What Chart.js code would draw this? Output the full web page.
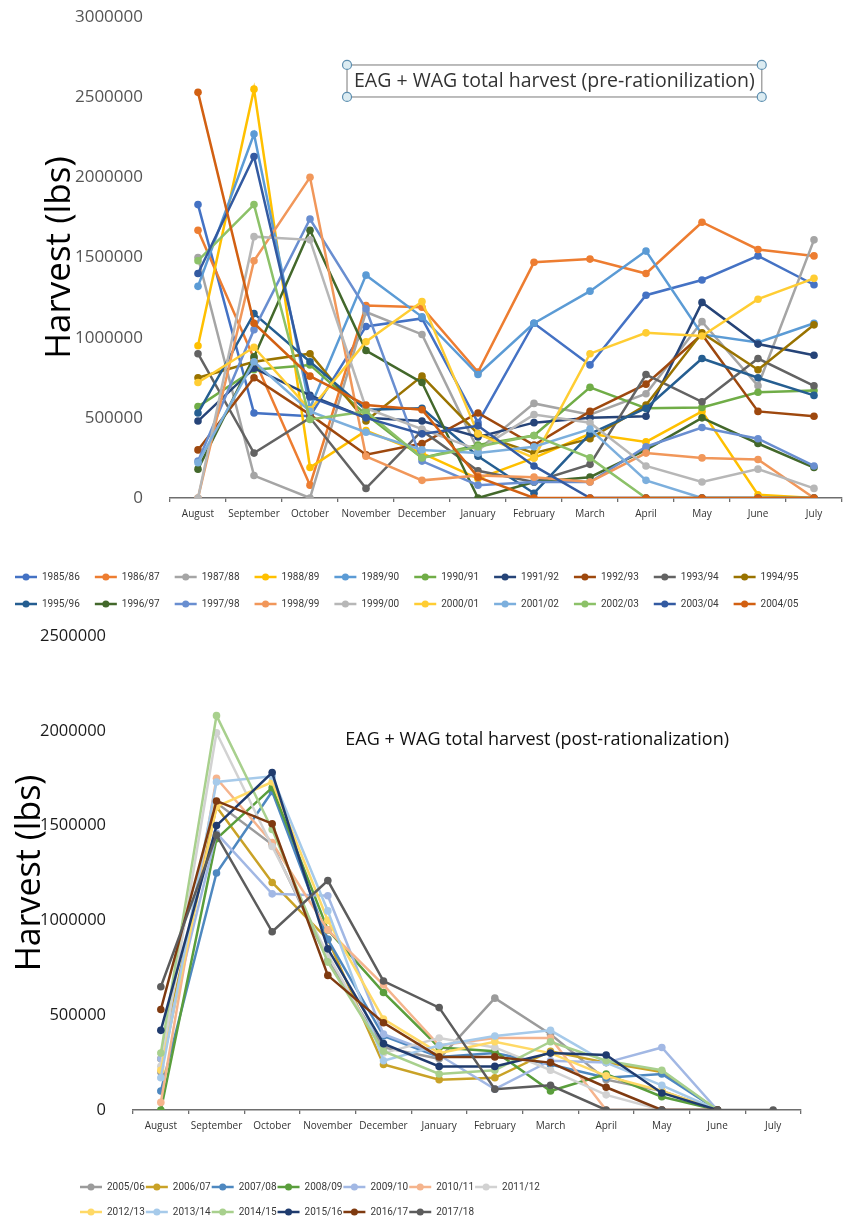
<!DOCTYPE html>
<html>
<head>
<meta charset="utf-8">
<title>EAG + WAG total harvest</title>
<script src="https://cdn.jsdelivr.net/npm/chart.js@4.4.1/dist/chart.umd.min.js"></script>
<style>
    html, body { margin: 0; padding: 0; background: #fff; overflow: hidden; width: 846px; height: 1226px; }
    #preChart { position: absolute; left: 0; top: 0; }
    #postChart { position: absolute; left: 0; top: 620px; }
</style>
</head>
<body>
<canvas id="preChart" width="846" height="620"></canvas>
<canvas id="postChart" width="846" height="614"></canvas>
<script>
const months = ['August', 'September', 'October', 'November', 'December', 'January',
                'February', 'March', 'April', 'May', 'June', 'July'];

// pre-rationalization seasons (lbs, Aug..Jul)
const preSeasons = ['1985/86', '1986/87', '1987/88', '1988/89', '1989/90', '1990/91', '1991/92',
                    '1992/93', '1993/94', '1994/95', '1995/96', '1996/97', '1997/98', '1998/99',
                    '1999/00', '2000/01', '2001/02', '2002/03', '2003/04', '2004/05'];
const preColors = ['#4472C4', '#ED7D31', '#A5A5A5', '#FFC000', '#5B9BD5', '#70AD47', '#264478',
                   '#9E480E', '#636363', '#997300', '#255E91', '#43682B', '#698ED0', '#F1975A',
                   '#B7B7B7', '#FFCD33', '#7CAFDD', '#8CC168', '#335AA1', '#D26012'];
const pre8586 = [1830000, 530000, 510000, 1070000, 1120000, 470000, 1090000, 830000, 1265000, 1360000, 1510000, 1330000];
const pre8687 = [1670000, 870000, 80000, 1200000, 1190000, 785000, 1470000, 1490000, 1400000, 1720000, 1550000, 1510000];
const pre8788 = [1500000, 140000, 0, 1160000, 1020000, 300000, 590000, 520000, 650000, 1100000, 700000, 1610000];
const pre8889 = [950000, 2550000, 190000, 420000, 280000, 120000, 250000, 400000, 350000, 540000, 20000, 0];
const pre8990 = [1320000, 2270000, 560000, 1390000, 1130000, 770000, 1090000, 1290000, 1540000, 1020000, 970000, 1090000];
const pre9091 = [570000, 800000, 830000, 520000, 250000, 330000, 390000, 690000, 560000, 565000, 660000, 670000];
const pre9192 = [480000, 810000, 640000, 500000, 480000, 380000, 470000, 500000, 510000, 1220000, 960000, 890000];
const pre9293 = [300000, 750000, 520000, 270000, 340000, 530000, 330000, 540000, 710000, 1020000, 540000, 510000];
const pre9394 = [900000, 280000, 500000, 60000, 420000, 170000, 100000, 210000, 770000, 600000, 870000, 700000];
const pre9495 = [750000, 850000, 900000, 480000, 760000, 400000, 280000, 370000, 580000, 1030000, 800000, 1080000];
const pre9596 = [530000, 1150000, 850000, 550000, 560000, 260000, 30000, 400000, 560000, 870000, 750000, 640000];
const pre9697 = [180000, 880000, 1670000, 920000, 720000, 0, 100000, 130000, 300000, 500000, 340000, 190000];
const pre9798 = [230000, 1050000, 1740000, 1180000, 230000, 80000, 100000, 100000, 320000, 440000, 370000, 200000];
const pre9899 = [0, 1480000, 2000000, 260000, 110000, 140000, 130000, 100000, 280000, 250000, 240000, 0];
const pre9900 = [0, 1630000, 1610000, 560000, 430000, 300000, 520000, 470000, 200000, 100000, 180000, 60000];
const pre0001 = [720000, 940000, 550000, 975000, 1225000, 400000, 250000, 900000, 1030000, 1010000, 1240000, 1370000];
const pre0102 = [220000, 850000, 540000, 410000, 300000, 280000, 320000, 430000, 110000, 0, 0, 0];
const pre0203 = [1480000, 1830000, 490000, 540000, 250000, 320000, 390000, 250000, 0, 0, 0, 0];
const pre0304 = [1400000, 2130000, 630000, 500000, 400000, 450000, 200000, 0, 0, 0, 0, 0];
const pre0405 = [2530000, 1090000, 760000, 580000, 550000, 130000, 0, 0, 0, 0, 0, 0];
const preValues = [pre8586, pre8687, pre8788, pre8889, pre8990, pre9091, pre9192, pre9293, pre9394, pre9495,
                   pre9596, pre9697, pre9798, pre9899, pre9900, pre0001, pre0102, pre0203, pre0304, pre0405];
const preTicks = [0, 500000, 1000000, 1500000, 2000000, 2500000, 3000000];

// post-rationalization seasons
const postSeasons = ['2005/06', '2006/07', '2007/08', '2008/09', '2009/10', '2010/11', '2011/12',
                     '2012/13', '2013/14', '2014/15', '2015/16', '2016/17', '2017/18'];
const postColors = ['#9B9B9B', '#C9A227', '#4E88C0', '#5A9E3C', '#A2B8E4', '#F5B48D', '#D2D2D2',
                    '#FFD966', '#A6CAEA', '#A8D08D', '#1F3B6E', '#7F3A10', '#5C5C5C'];
const post0506 = [200000, 1620000, 1400000, 790000, 330000, 270000, 590000, 400000, 160000, 100000, 0, null];
const post0607 = [270000, 1600000, 1200000, 900000, 240000, 160000, 170000, 310000, 250000, 200000, 0, null];
const post0708 = [100000, 1250000, 1680000, 900000, 390000, 280000, 300000, 240000, 170000, 190000, 0, null];
const post0809 = [0, 1430000, 1700000, 950000, 620000, 330000, 310000, 100000, 190000, 70000, 0, null];
const post0910 = [270000, 1460000, 1140000, 1130000, 400000, 290000, 110000, 260000, 250000, 330000, 0, null];
const post1011 = [40000, 1750000, 1410000, 950000, 660000, 340000, 380000, 380000, 0, 0, 0, null];
const post1112 = [230000, 1990000, 1390000, 820000, 300000, 380000, 330000, 210000, 80000, 0, 0, null];
const post1213 = [210000, 1600000, 1730000, 1000000, 480000, 300000, 360000, 300000, 180000, 100000, 0, null];
const post1314 = [170000, 1730000, 1760000, 1050000, 260000, 340000, 390000, 420000, 250000, 130000, 0, null];
const post1415 = [300000, 2080000, 1480000, 780000, 310000, 190000, 210000, 360000, 260000, 210000, 0, null];
const post1516 = [420000, 1500000, 1780000, 850000, 350000, 230000, 230000, 300000, 290000, 90000, 0, null];
const post1617 = [530000, 1630000, 1510000, 710000, 460000, 280000, 280000, 250000, 120000, 0, 0, null];
const post1718 = [650000, 1450000, 940000, 1210000, 680000, 540000, 110000, 130000, 0, 0, 0, 0];
const postValues = [post0506, post0607, post0708, post0809, post0910, post1011, post1112,
                    post1213, post1314, post1415, post1516, post1617, post1718];
const postTicks = [0, 500000, 1000000, 1500000, 2000000, 2500000];

// legend entries drawn as Excel style line + marker
const legendIcons = {
    id: 'legendIcons',
    afterDraw(chart) {
        const lg = chart.legend;
        if (!lg || !lg.legendHitBoxes) return;
        const ctx = chart.ctx;
        const bw = lg.options.labels.boxWidth;
        lg.legendItems.forEach((item, i) => {
            const box = lg.legendHitBoxes[i];
            if (!box) return;
            const y = box.top + box.height / 2;
            ctx.save();
            ctx.strokeStyle = item.iconColor;
            ctx.fillStyle = item.iconColor;
            ctx.lineWidth = 2.5;
            ctx.beginPath();
            ctx.moveTo(box.left, y);
            ctx.lineTo(box.left + bw, y);
            ctx.stroke();
            ctx.beginPath();
            ctx.arc(box.left + bw / 2, y, 3.5, 0, Math.PI * 2);
            ctx.fill();
            ctx.restore();
        });
    }
};

// floating title text (with a selected-textbox frame on the first chart)
const chartNote = {
    id: 'chartNote',
    afterDraw(chart, args, opts) {
        if (!opts || !opts.text) return;
        const a = chart.chartArea;
        const ctx = chart.ctx;
        const x = a.left + opts.x * (a.right - a.left);
        const y = a.top + opts.y * (a.bottom - a.top);
        ctx.save();
        ctx.font = opts.font;
        ctx.fillStyle = opts.color;
        ctx.textAlign = 'center';
        ctx.textBaseline = 'middle';
        ctx.fillText(opts.text, x, y);
        if (opts.framed) {
            const w = ctx.measureText(opts.text).width + 14;
            const h = 32;
            const l = x - w / 2, t = y - h / 2;
            ctx.strokeStyle = '#a6a6a6';
            ctx.lineWidth = 1.5;
            ctx.strokeRect(l, t, w, h);
            [[l, t], [l, t + h], [l + w, t], [l + w, t + h]].forEach(([hx, hy]) => {
                ctx.beginPath();
                ctx.arc(hx, hy, 4.5, 0, Math.PI * 2);
                ctx.fillStyle = '#dcecf2';
                ctx.fill();
                ctx.strokeStyle = '#5d8fb0';
                ctx.lineWidth = 1.2;
                ctx.stroke();
            });
        }
        ctx.restore();
    }
};

// move / narrow the legend box so the rows wrap like the original
const legendSpot = {
    id: 'legendSpot',
    afterLayout(chart, args, opts) {
        if (!opts || !opts.maxWidth) return;
        const lg = chart.legend;
        const top = lg.top;
        lg.maxWidth = opts.maxWidth;
        lg.fit();
        lg.left = opts.left;
        lg.right = opts.left + lg.width;
        lg.top = top;
        lg.bottom = top + lg.height;
    }
};

function seasonLabels(chart) {
    return chart.data.datasets.map((ds, i) => ({
        text: ds.label,
        datasetIndex: i,
        fillStyle: 'rgba(0,0,0,0)',
        strokeStyle: 'rgba(0,0,0,0)',
        lineWidth: 0,
        hidden: false,
        fontColor: '#3a3a3a',
        iconColor: ds.borderColor
    }));
}

function buildDatasets(seasons, values, colors) {
    return seasons.map((label, i) => ({
        label: label,
        data: values[i],
        borderColor: colors[i],
        backgroundColor: colors[i],
        pointBackgroundColor: colors[i],
        pointBorderWidth: 0,
        pointRadius: 3.8,
        borderWidth: 2.5,
        tension: 0,
        order: -i   // later seasons on top, like Excel
    }));
}

function makeChart(canvasId, s) {
    const ctx = document.getElementById(canvasId).getContext('2d');
    return new Chart(ctx, {
        type: 'line',
        data: {
            labels: months,
            datasets: buildDatasets(s.seasons, s.values, s.colors)
        },
        plugins: [legendIcons, chartNote, legendSpot],
        options: {
            responsive: false,
            animation: false,
            events: [],
            layout: { padding: s.padding },
            scales: {
                x: {
                    offset: true,
                    afterFit: (scale) => { scale.height = s.xHeight; },
                    grid: {
                        offset: true,
                        drawOnChartArea: false,
                        drawTicks: true,
                        tickLength: 4,
                        color: '#6e6e6e',
                        lineWidth: 1.3
                    },
                    border: { display: true, color: '#6e6e6e', width: 1.6 },
                    ticks: {
                        autoSkip: false,
                        maxRotation: 0,
                        minRotation: 0,
                        padding: 6,
                        color: '#333',
                        font: { family: "'Open Sans', sans-serif", size: 10 }
                    }
                },
                y: {
                    min: 0,
                    max: s.ticks[s.ticks.length - 1],
                    afterFit: (scale) => {
                        scale.width = s.yWidth;
                        scale.paddingTop = 0;
                        scale.paddingBottom = 0;
                    },
                    afterBuildTicks: (scale) => { scale.ticks = s.ticks.map(v => ({ value: v })); },
                    grid: { display: false },
                    border: { display: false },
                    ticks: {
                        padding: 19,
                        color: s.yTickColor,
                        font: { family: "'Open Sans', sans-serif", size: s.yTickSize },
                        callback: (v) => String(v)
                    },
                    title: {
                        display: true,
                        text: 'Harvest (lbs)',
                        color: '#000',
                        font: { family: "'Open Sans', sans-serif", size: s.yTitleSize },
                        padding: { top: s.yTitlePad, bottom: 0 }
                    }
                }
            },
            plugins: {
                tooltip: { enabled: false },
                legend: {
                    position: 'bottom',
                    align: 'start',
                    labels: {
                        boxWidth: 22,
                        boxHeight: s.legendBoxHeight,
                        padding: s.legendPad,
                        color: '#3a3a3a',
                        font: { family: "Roboto, 'Open Sans', sans-serif", size: 10 },
                        generateLabels: seasonLabels
                    }
                },
                chartNote: s.note,
                legendSpot: s.legendSpot || {}
            }
        }
    });
}

makeChart('preChart', {
    seasons: preSeasons,
    values: preValues,
    colors: preColors,
    ticks: preTicks,
    padding: { top: 17, right: 3, left: 0, bottom: 0 },
    xHeight: 58,
    yWidth: 170,
    yTickColor: '#555',
    yTickSize: 17,
    yTitleSize: 35,
    yTitlePad: 39,
    legendBoxHeight: 12,
    legendPad: 15,
    note: {
        text: 'EAG + WAG total harvest (pre-rationilization)',
        x: 0.572, y: 0.133,
        font: "19.5px 'Open Sans', sans-serif",
        color: '#333',
        framed: true
    }
});

makeChart('postChart', {
    seasons: postSeasons,
    values: postValues,
    colors: postColors,
    ticks: postTicks,
    padding: { top: 16, right: 45, left: 0, bottom: 0 },
    xHeight: 64,
    yWidth: 133,
    yTickColor: '#1a1a1a',
    yTickSize: 16.5,
    yTitleSize: 34,
    yTitlePad: 10,
    legendBoxHeight: 24,
    legendPad: 1,
    legendSpot: { left: 79, maxWidth: 500 },
    note: {
        text: 'EAG + WAG total harvest (post-rationalization)',
        x: 0.605, y: 0.219,
        font: "18px 'Open Sans', sans-serif",
        color: '#111',
        framed: false
    }
});
</script>
</body>
</html>
